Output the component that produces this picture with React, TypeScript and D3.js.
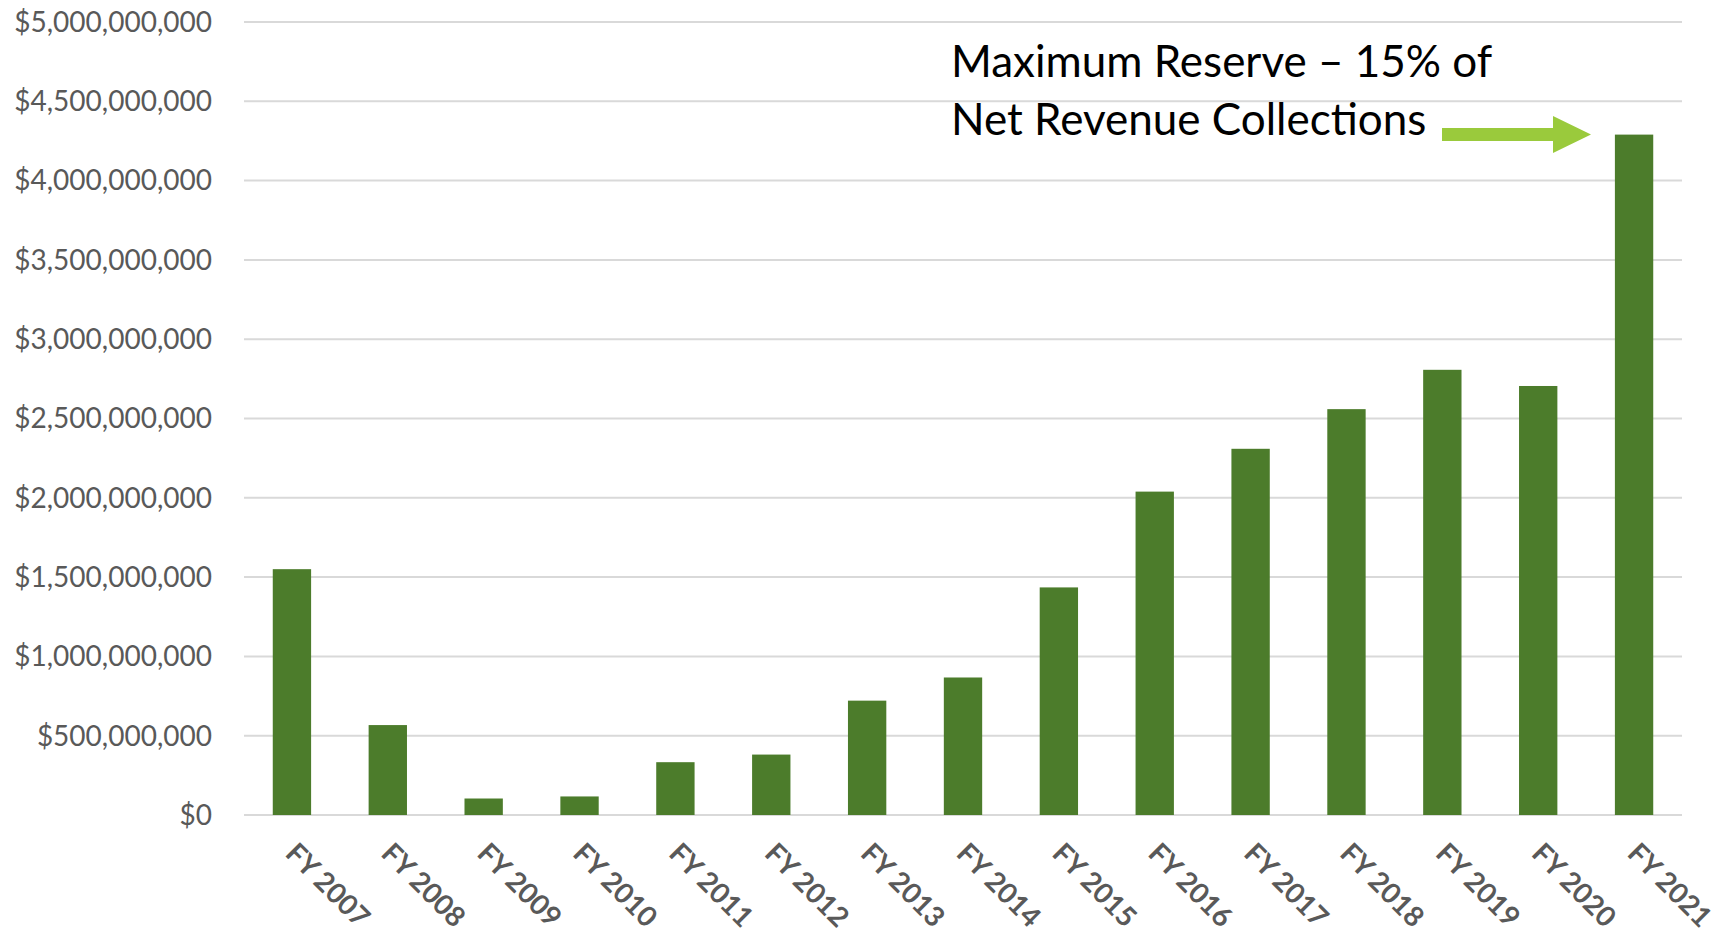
import * as d3 from "d3";

const years = [
  "FY 2007", "FY 2008", "FY 2009", "FY 2010", "FY 2011", "FY 2012", "FY 2013", "FY 2014",
  "FY 2015", "FY 2016", "FY 2017", "FY 2018", "FY 2019", "FY 2020", "FY 2021",
];
const reserve = [
  1.55e9, 0.567e9, 0.104e9, 0.117e9, 0.333e9, 0.381e9, 0.721e9, 0.867e9,
  1.435e9, 2.039e9, 2.309e9, 2.559e9, 2.807e9, 2.705e9, 4.29e9,
];
const yTicks = [0, 5e8, 1e9, 1.5e9, 2e9, 2.5e9, 3e9, 3.5e9, 4e9, 4.5e9, 5e9];
const noteLines = ["Maximum Reserve \u2013 15% of", "Net Revenue Collections"];

const W = 1724;
const H = 932;
const margin = { left: 244, right: 42, top: 22, bottom: 117 };

export default function App() {
  const x = d3
    .scaleBand<string>()
    .domain(years)
    .range([margin.left, W - margin.right])
    .paddingInner(0.6)
    .paddingOuter(0.3);
  const y = d3.scaleLinear().domain([0, 5e9]).range([H - margin.bottom, margin.top]);
  const fmt = d3.format(",");

  // arrow pointing at the last bar
  const ay = 134.5;
  const arrow = d3.path();
  arrow.moveTo(1442, ay - 6.5);
  arrow.lineTo(1553, ay - 6.5);
  arrow.lineTo(1553, ay - 18.5);
  arrow.lineTo(1591, ay);
  arrow.lineTo(1553, ay + 18.5);
  arrow.lineTo(1553, ay + 6.5);
  arrow.lineTo(1442, ay + 6.5);
  arrow.closePath();

  return (
    <svg
      width={W}
      height={H}
      style={{ position: "absolute", left: 0, top: 0, background: "#fff" }}
      fontFamily="Lato, 'Open Sans', sans-serif"
    >
      <g>
        {yTicks.map((t) => (
          <g key={t}>
            <line
              x1={margin.left}
              x2={W - margin.right}
              y1={y(t)}
              y2={y(t)}
              stroke="#d9d9d9"
              strokeWidth={2}
            />
            <text
              x={212}
              y={y(t)}
              dy="0.35em"
              textAnchor="end"
              fontSize={28}
              fill="#595959"
            >
              {"$" + fmt(t)}
            </text>
          </g>
        ))}
      </g>
      <g>
        {years.map((yr, i) => (
          <rect
            key={yr}
            x={x(yr)!}
            y={y(reserve[i])}
            width={x.bandwidth()}
            height={y(0) - y(reserve[i])}
            fill="#4c7c2b"
          />
        ))}
      </g>
      <g>
        {years.map((yr) => {
          const cx = x(yr)! + x.bandwidth() / 2 - 8;
          const cy = y(0) + 40;
          return (
            <text
              key={yr}
              transform={`translate(${cx},${cy}) rotate(45)`}
              fontSize={28}
              fontWeight="bold"
              fill="#595959"
            >
              {yr}
            </text>
          );
        })}
      </g>
      <g fontSize={44} fill="#000">
        {noteLines.map((s, i) => (
          <text key={i} x={951} y={77 + i * 58}>
            {s}
          </text>
        ))}
      </g>
      <path d={arrow.toString()} fill="#9aca3c" />
    </svg>
  );
}
